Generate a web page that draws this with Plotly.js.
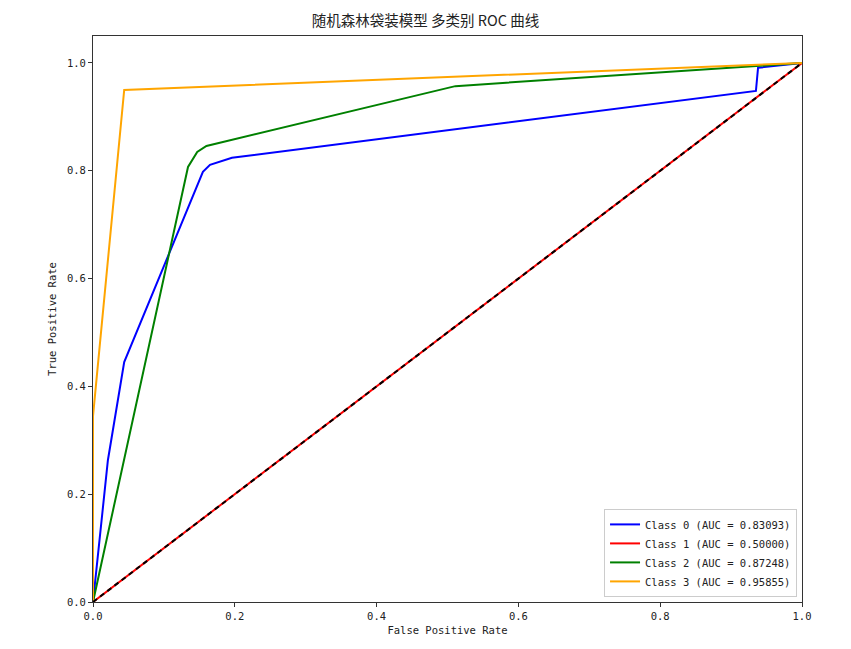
<!DOCTYPE html>
<html>
<head>
<meta charset="utf-8">
<script src="https://cdn.plot.ly/plotly-3.0.1.min.js"></script>
<style>html,body{margin:0;padding:0;background:#fff;}#chart{width:851px;height:649px;}</style>
</head>
<body>
<div id="chart"></div>
<script>
const class0_fpr = [0, 0.021, 0.044, 0.155, 0.165, 0.196, 0.935, 0.938, 1];
const class0_tpr = [0, 0.263, 0.445, 0.798, 0.811, 0.824, 0.948, 0.991, 1];
const class1_fpr = [0, 1];
const class1_tpr = [0, 1];
const class2_fpr = [0, 0.134, 0.147, 0.160, 0.511, 1];
const class2_tpr = [0, 0.807, 0.835, 0.846, 0.957, 1];
const class3_fpr = [0, 0, 0.044, 1];
const class3_tpr = [0, 0.345, 0.95, 1];
const chance = [0, 1];
const labels = ["Class 0 (AUC = 0.83093)", "Class 1 (AUC = 0.50000)", "Class 2 (AUC = 0.87248)", "Class 3 (AUC = 0.95855)"];
const colors = ["blue", "red", "green", "orange"];
const titleText = "随机森林袋装模型 多类别 ROC 曲线";

const mono = "DejaVu Sans Mono, Noto Sans CJK SC, monospace";
const series = [[class0_fpr, class0_tpr], [class1_fpr, class1_tpr], [class2_fpr, class2_tpr], [class3_fpr, class3_tpr]];
const traces = series.map((s, i) => ({
  x: s[0], y: s[1], mode: "lines", type: "scatter", name: labels[i],
  line: {color: colors[i], width: 2}
}));
traces.push({x: chance, y: chance, mode: "lines", type: "scatter", showlegend: false,
  line: {color: "black", width: 2, dash: "5px,4px"}});

const axisCommon = {
  showgrid: false, zeroline: false, showline: true, mirror: true,
  linecolor: "#333", linewidth: 1, ticks: "outside", ticklen: 4, tickcolor: "#333",
  tickfont: {family: mono, size: 10.5, color: "#222"}
};
const layout = {
  width: 851, height: 649,
  margin: {l: 93, r: 49, t: 36, b: 47},
  paper_bgcolor: "#fff", plot_bgcolor: "#fff",
  title: {text: titleText, x: 0.5, xanchor: "center", y: 0.968, yanchor: "middle",
    font: {family: "Noto Sans CJK SC, sans-serif", size: 14.5, color: "#222"}},
  xaxis: Object.assign({}, axisCommon, {range: [0, 1], tickvals: [0, 0.2, 0.4, 0.6, 0.8, 1.0],
    ticktext: ["0.0", "0.2", "0.4", "0.6", "0.8", "1.0"],
    title: {text: "False Positive Rate", standoff: 6, font: {family: mono, size: 10.5, color: "#222"}}}),
  yaxis: Object.assign({}, axisCommon, {range: [0, 1.05], tickvals: [0, 0.2, 0.4, 0.6, 0.8, 1.0],
    ticktext: ["0.0", "0.2", "0.4", "0.6", "0.8", "1.0"],
    title: {text: "True Positive Rate", standoff: 8, font: {family: mono, size: 10.5, color: "#222"}}}),
  legend: {x: 0.993, xanchor: "right", y: 0.009, yanchor: "bottom",
    bgcolor: "rgba(255,255,255,0.8)", bordercolor: "#ccc", borderwidth: 1,
    font: {family: mono, size: 10.5, color: "#222"}, tracegroupgap: 0, itemwidth: 30},
  showlegend: true
};
Plotly.newPlot("chart", traces, layout, {displayModeBar: false, staticPlot: true});
</script>
</body>
</html>
